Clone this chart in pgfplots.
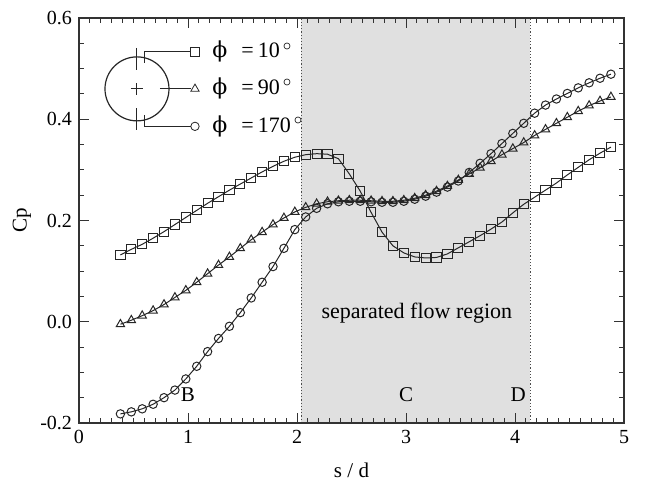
\documentclass[border=0pt]{standalone}
\usepackage{fontspec}
\setmainfont{Liberation Serif}
\newfontfamily\greekfont{DejaVu Serif}
\usepackage{pgfplots}
\pgfplotsset{compat=1.18}

\begin{document}
\begin{tikzpicture}
\begin{axis}[
    scale only axis,
    width=272.5pt, height=202.5pt,
    xmin=0, xmax=5, ymin=-0.2, ymax=0.6,
    xtick={0,1,2,3,4,5},
    ytick={-0.2,0,0.2,0.4,0.6},
    minor x tick num=9, minor y tick num=3,
    major tick length=5pt, minor tick length=2.5pt,
    tick style={black!80, line width=0.5pt},
    axis line style={black!80, line width=0.6pt},
    axis on top,
    /pgf/number format/assume math mode=true,
    yticklabel style={/pgf/number format/.cd, fixed, fixed zerofill, precision=1},
    ticklabel style={font=\fontsize{10}{12}\selectfont},
    xlabel={s / d}, ylabel={Cp},
    label style={font=\fontsize{10.5}{12}\selectfont},
    xlabel style={at={(axis description cs:0.5,-0.116)}, anchor=center},
    ylabel style={at={(axis description cs:-0.1046,0.5)}, anchor=center},
]

% separated flow region
\addplot[draw=none, fill=black!12] coordinates {(2.04,-0.2) (2.04,0.6) (4.14,0.6) (4.14,-0.2)} -- cycle;
\addplot[densely dotted, black!70, line width=0.6pt] coordinates {(2.04,-0.2) (2.04,0.6)};
\addplot[densely dotted, black!70, line width=0.6pt] coordinates {(4.14,-0.2) (4.14,0.6)};
\node[font=\fontsize{11}{13}\selectfont] at (axis cs:3.1,0.017) {separated flow region};

\node[font=\fontsize{10.5}{12}\selectfont] at (axis cs:1,-0.145) {B};
\node[font=\fontsize{10.5}{12}\selectfont] at (axis cs:3,-0.145) {C};
\node[font=\fontsize{10.5}{12}\selectfont] at (axis cs:4.03,-0.145) {D};

% phi = 10
\addplot[black!85, line width=0.5pt, mark=square, mark size=2.3pt] coordinates {
(0.38,0.132) (0.48,0.143) (0.58,0.153) (0.68,0.165) (0.78,0.178) (0.88,0.192)
(0.98,0.206) (1.08,0.220) (1.18,0.234) (1.28,0.247) (1.38,0.260) (1.48,0.272)
(1.58,0.284) (1.68,0.296) (1.78,0.307) (1.88,0.317) (1.98,0.325) (2.08,0.330)
(2.18,0.332) (2.28,0.331) (2.38,0.322) (2.48,0.292) (2.58,0.258) (2.68,0.216)
(2.78,0.177) (2.88,0.150) (2.98,0.136) (3.08,0.128) (3.18,0.126) (3.28,0.127)
(3.38,0.134) (3.48,0.146) (3.58,0.158) (3.68,0.170) (3.78,0.183) (3.88,0.197)
(3.98,0.215) (4.08,0.232) (4.18,0.246) (4.28,0.260) (4.38,0.274) (4.48,0.290)
(4.58,0.305) (4.68,0.320) (4.78,0.333) (4.88,0.345)
};

% phi = 90
\addplot[black!85, line width=0.5pt, mark=triangle, mark size=2.4pt] coordinates {
(0.38,-0.005) (0.48,0.003) (0.58,0.012) (0.68,0.022) (0.78,0.034) (0.88,0.048)
(0.98,0.062) (1.08,0.078) (1.18,0.095) (1.28,0.112) (1.38,0.128) (1.48,0.145)
(1.58,0.162) (1.68,0.177) (1.78,0.192) (1.88,0.205) (1.98,0.217) (2.08,0.226)
(2.18,0.233) (2.28,0.237) (2.38,0.239) (2.48,0.240) (2.58,0.240) (2.68,0.239)
(2.78,0.238) (2.88,0.238) (2.98,0.240) (3.08,0.244) (3.18,0.250) (3.28,0.258)
(3.38,0.268) (3.48,0.280) (3.58,0.292) (3.68,0.304) (3.78,0.317) (3.88,0.330)
(3.98,0.342) (4.08,0.354) (4.18,0.368) (4.28,0.380) (4.38,0.392) (4.48,0.404)
(4.58,0.416) (4.68,0.427) (4.78,0.436) (4.88,0.444)
};

% phi = 170
\addplot[black!85, line width=0.5pt, mark=o, mark size=2.1pt] coordinates {
(0.38,-0.182) (0.48,-0.178) (0.58,-0.172) (0.68,-0.163) (0.78,-0.150) (0.88,-0.135)
(0.98,-0.113) (1.08,-0.088) (1.18,-0.059) (1.28,-0.033) (1.38,-0.009) (1.48,0.018)
(1.58,0.047) (1.68,0.078) (1.78,0.109) (1.88,0.145) (1.98,0.182) (2.08,0.207)
(2.18,0.224) (2.28,0.233) (2.38,0.237) (2.48,0.238) (2.58,0.238) (2.68,0.237)
(2.78,0.236) (2.88,0.236) (2.98,0.238) (3.08,0.242) (3.18,0.248) (3.28,0.256)
(3.38,0.266) (3.48,0.278) (3.58,0.295) (3.68,0.313) (3.78,0.332) (3.88,0.352)
(3.98,0.372) (4.08,0.392) (4.18,0.412) (4.28,0.428) (4.38,0.440) (4.48,0.451)
(4.58,0.462) (4.68,0.472) (4.78,0.481) (4.88,0.489)
};

% legend sketch: cylinder cross-section with tap positions
\draw[black!85, line width=0.6pt] (axis cs:0.532,0.46) circle[radius=16pt];
\draw[black!85, line width=0.5pt] (axis cs:0.532,0.46) ++(-3pt,0pt) -- ++(6pt,0pt);
\draw[black!85, line width=0.5pt] (axis cs:0.532,0.46) ++(0pt,-3pt) -- ++(0pt,6pt);
\draw[black!85, line width=0.5pt] (axis cs:0.532,0.46) ++(0pt,20.5pt) -- ++(0pt,-11pt);
\draw[black!85, line width=0.5pt] (axis cs:0.532,0.46) ++(0pt,-20.5pt) -- ++(0pt,11pt);
\draw[black!85, line width=0.5pt] (axis cs:0.532,0.46) ++(4pt,13pt) -- ++(0pt,5.5pt) -- ++(23pt,0pt);
\draw[black!85, line width=0.5pt] (axis cs:0.532,0.46) ++(11.5pt,0pt) -- ++(15.5pt,0pt);
\draw[black!85, line width=0.5pt] (axis cs:0.532,0.46) ++(4pt,-13pt) -- ++(0pt,-5.75pt) -- ++(23pt,0pt);
\addplot[only marks, black!85, mark=square, mark size=2.3pt] coordinates {(1.064,0.533)};
\addplot[only marks, black!85, mark=triangle, mark size=2.4pt] coordinates {(1.064,0.46)};
\addplot[only marks, black!85, mark=o, mark size=2.1pt] coordinates {(1.064,0.386)};
\node[anchor=west, font=\fontsize{11}{13}\selectfont, inner sep=0pt] at (axis cs:1.22,0.533) {{\greekfont ϕ}\hspace{7pt}=\hspace{2pt}10\hspace{1.5pt}$^{\circ}$};
\node[anchor=west, font=\fontsize{11}{13}\selectfont, inner sep=0pt] at (axis cs:1.22,0.46) {{\greekfont ϕ}\hspace{7pt}=\hspace{2pt}90\hspace{1.5pt}$^{\circ}$};
\node[anchor=west, font=\fontsize{11}{13}\selectfont, inner sep=0pt] at (axis cs:1.22,0.386) {{\greekfont ϕ}\hspace{7pt}=\hspace{2pt}170\hspace{1.5pt}$^{\circ}$};
\end{axis}
\pgfresetboundingbox
\path[use as bounding box] ([shift={(-39.5pt,-30pt)}]current axis.south west) rectangle ([shift={(11.5pt,9pt)}]current axis.north east);
\end{tikzpicture}
\end{document}
